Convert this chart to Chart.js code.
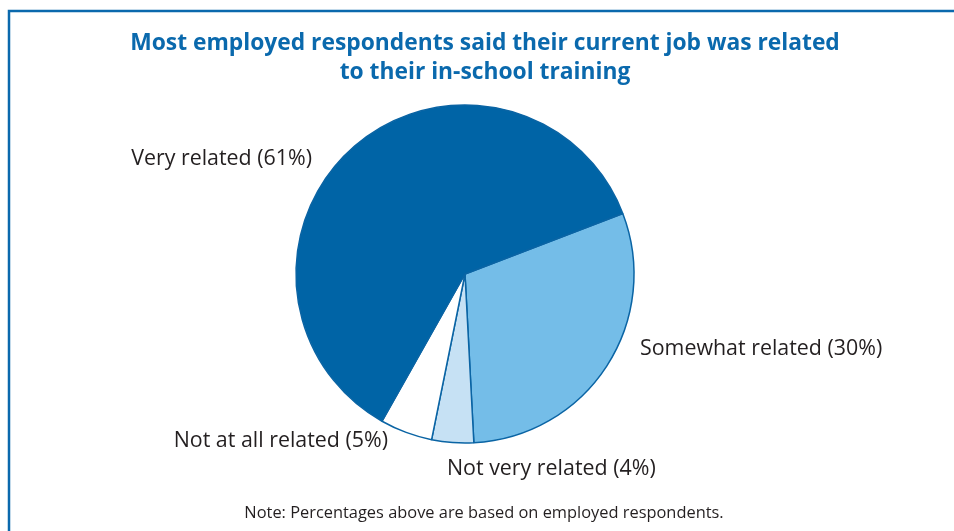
<!DOCTYPE html>
<html lang="en">
<head>
  <meta charset="UTF-8">
  <title>Job relatedness to training</title>
  <script src="https://cdn.jsdelivr.net/npm/chart.js"></script>
  <style>
    html, body { margin: 0; padding: 0; background: #fff; }
    #wrap { position: relative; width: 954px; height: 531px; }
  </style>
</head>
<body>
  <div id="wrap"><canvas id="chart" width="954" height="531"></canvas></div>

  <script>
    const titleLines = ['Most employed respondents said their current job was related', 'to their in-school training'];
    const categories = ['Somewhat related', 'Not very related', 'Not at all related', 'Very related'];
    const shares = [30, 4, 5, 61];
    const sliceColors = ['#74bde8', '#c6e1f4', '#ffffff', '#0064a6'];
    const note = 'Note: Percentages above are based on employed respondents.';

    // where each slice label sits (text anchor, alignment)
    const labelSpots = [
      { x: 640, y: 349, align: 'left' },
      { x: 447, y: 469, align: 'left' },
      { x: 388, y: 441, align: 'right' },
      { x: 312, y: 159, align: 'right' }
    ];

    const BLUE = '#0a69ad';
    const TEXT = '#231f20';
    const FONT = '"Open Sans", "Noto Sans", sans-serif';

    const decorations = {
      id: 'decorations',
      afterDraw(chart) {
        const ctx = chart.ctx;
        ctx.save();

        // frame along top and left edge
        ctx.strokeStyle = BLUE;
        ctx.lineWidth = 2.5;
        ctx.beginPath();
        ctx.moveTo(9, 531);
        ctx.lineTo(9, 11);
        ctx.lineTo(954, 11);
        ctx.stroke();

        ctx.textBaseline = 'middle';
        ctx.fillStyle = BLUE;
        ctx.textAlign = 'center';
        ctx.font = 'bold 22.8px ' + FONT;
        ctx.fillText(titleLines[0], 485, 44);
        ctx.fillText(titleLines[1], 485, 73);

        ctx.fillStyle = TEXT;
        ctx.font = '21.4px ' + FONT;
        categories.forEach((c, i) => {
          const s = labelSpots[i];
          ctx.textAlign = s.align;
          ctx.fillText(c + ' (' + shares[i] + '%)', s.x, s.y);
        });

        ctx.textAlign = 'center';
        ctx.font = '16.4px ' + FONT;
        ctx.fillText(note, 484, 513);
        ctx.restore();
      }
    };

    new Chart(document.getElementById('chart'), {
      type: 'pie',
      data: {
        labels: categories,
        datasets: [{
          data: shares,
          backgroundColor: sliceColors,
          borderColor: '#0a64a4',
          borderWidth: 1.5,
          borderAlign: 'center'
        }]
      },
      options: {
        responsive: false,
        animation: false,
        rotation: 69,
        radius: 169,
        layout: { padding: { left: 290, right: 314, top: 99, bottom: 82 } },
        plugins: {
          legend: { display: false },
          tooltip: { enabled: false },
          title: { display: false }
        }
      },
      plugins: [decorations]
    });
  </script>
</body>
</html>
